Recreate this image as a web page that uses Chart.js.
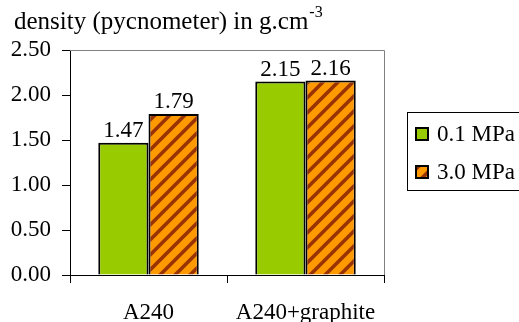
<!DOCTYPE html>
<html>
<head>
<meta charset="utf-8">
<script src="https://cdn.jsdelivr.net/npm/chart.js@4"></script>
<style>
  body { margin: 0; background: #fff; }
  #wrap { width: 519px; height: 322px; }
</style>
</head>
<body>
<div id="wrap"><canvas id="densityChart" width="519" height="322"></canvas></div>
<script>
// density measured by pycnometer, two compaction pressures
const categories = ["A240", "A240+graphite"];
const seriesNames = ["0.1 MPa", "3.0 MPa"];
const lowPressure = [1.47, 2.15];
const highPressure = [1.79, 2.16];
const yTickValues = [0, 0.5, 1.0, 1.5, 2.0, 2.5];

const SERIF = "'Liberation Serif', 'Times New Roman', serif";

// orange fill with dark diagonal stripes
function makeStripes() {
  const p = 15;
  const tile = document.createElement("canvas");
  tile.width = p;
  tile.height = p;
  const t = tile.getContext("2d");
  t.fillStyle = "#ff9900";
  t.fillRect(0, 0, p, p);
  t.strokeStyle = "#993300";
  t.lineWidth = 3.6;
  t.beginPath();
  t.moveTo(-2, p + 2); t.lineTo(p + 2, -2);
  t.moveTo(-2, 2); t.lineTo(2, -2);
  t.moveTo(p - 2, p + 2); t.lineTo(p + 2, p - 2);
  t.stroke();
  return document.createElement("canvas").getContext("2d").createPattern(tile, "repeat");
}
const stripes = makeStripes();
const fills = ["#99cc00", stripes];

// title, plot frame, value labels and boxed legend
const extras = {
  id: "extras",
  beforeDatasetsDraw(chart) {
    const { ctx, chartArea: a } = chart;
    ctx.save();
    ctx.strokeStyle = "#808080";
    ctx.lineWidth = 1;
    ctx.beginPath();
    ctx.moveTo(a.left, a.top + 0.5);
    ctx.lineTo(a.right + 0.5, a.top + 0.5);
    ctx.lineTo(a.right + 0.5, a.bottom);
    ctx.stroke();
    ctx.restore();
  },
  afterDraw(chart) {
    const { ctx } = chart;
    ctx.save();
    ctx.fillStyle = "#000";
    ctx.textBaseline = "alphabetic";

    // title
    ctx.font = "25px " + SERIF;
    ctx.textAlign = "left";
    const title = "density (pycnometer) in g.cm";
    ctx.fillText(title, 14, 29);
    const w = ctx.measureText(title).width;
    ctx.font = "16px " + SERIF;
    ctx.fillText("-3", 14 + w + 1, 17);

    // value labels
    ctx.font = "23px " + SERIF;
    ctx.textAlign = "center";
    chart.data.datasets.forEach((ds, i) => {
      chart.getDatasetMeta(i).data.forEach((bar, j) => {
        ctx.fillText(ds.data[j].toFixed(2), bar.x, bar.y - 6);
      });
    });

    // legend
    ctx.strokeStyle = "#000";
    ctx.lineWidth = 1;
    ctx.strokeRect(407.5, 112.5, 130, 78);
    ctx.textAlign = "left";
    ctx.textBaseline = "middle";
    seriesNames.forEach((name, i) => {
      const y = 127 + i * 38;
      ctx.fillStyle = fills[i];
      ctx.fillRect(415, y, 14, 14);
      ctx.lineWidth = 2;
      ctx.strokeRect(416, y + 1, 12, 12);
      ctx.fillStyle = "#000";
      ctx.fillText(name, 437, y + 8);
    });
    ctx.restore();
  }
};

new Chart(document.getElementById("densityChart"), {
  type: "bar",
  data: {
    labels: categories,
    datasets: [
      { label: seriesNames[0], data: lowPressure, backgroundColor: fills[0] },
      { label: seriesNames[1], data: highPressure, backgroundColor: fills[1] }
    ].map(ds => Object.assign(ds, {
      borderColor: "#000",
      borderWidth: 2,
      barPercentage: 1.0,
      categoryPercentage: 0.64
    }))
  },
  options: {
    responsive: false,
    animation: false,
    devicePixelRatio: 1,
    layout: { padding: { top: 50, right: 135, left: 0, bottom: 0 } },
    plugins: {
      legend: { display: false },
      tooltip: { enabled: false }
    },
    scales: {
      y: {
        min: 0,
        max: 2.5,
        afterFit: s => { s.width = 70; },
        afterBuildTicks: s => { s.ticks = yTickValues.map(v => ({ value: v })); },
        border: { color: "#000", width: 1 },
        grid: { drawOnChartArea: false, tickLength: 8, color: "#000" },
        ticks: {
          color: "#000",
          padding: 11,
          font: { family: SERIF, size: 23 },
          callback: v => Number(v).toFixed(2)
        }
      },
      x: {
        afterFit: s => { s.height = 47; },
        border: { color: "#000", width: 1 },
        grid: { offset: true, drawOnChartArea: false, tickLength: 8, color: "#000" },
        ticks: {
          color: "#000",
          padding: 16,
          font: { family: SERIF, size: 23 }
        }
      }
    }
  },
  plugins: [extras]
});
</script>
</body>
</html>
